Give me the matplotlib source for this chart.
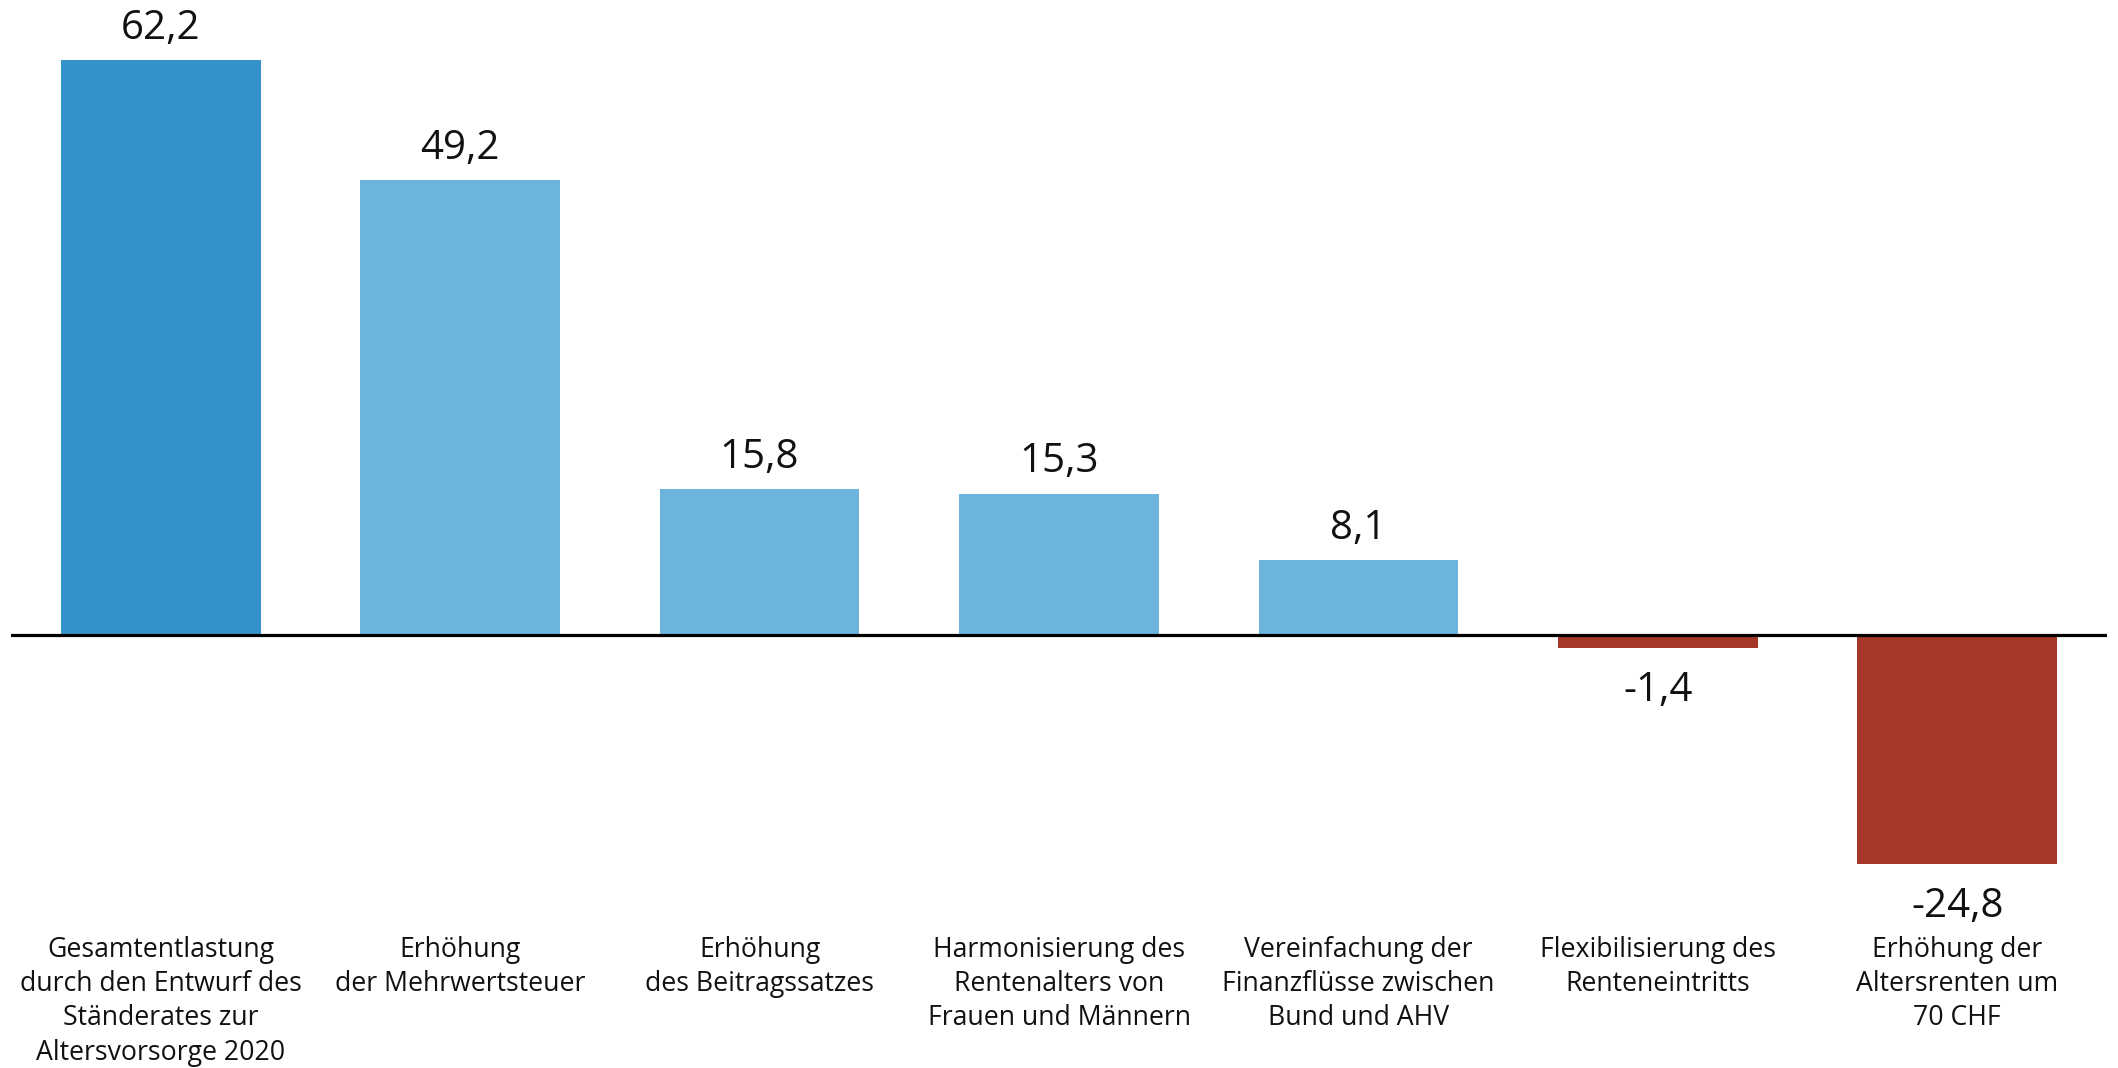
import matplotlib
matplotlib.use("Agg")
import matplotlib.pyplot as plt

# Data (Mrd. CHF)
categories = [
    "Gesamtentlastung\ndurch den Entwurf des\nStänderates zur\nAltersvorsorge 2020",
    "Erhöhung\nder Mehrwertsteuer",
    "Erhöhung\ndes Beitragssatzes",
    "Harmonisierung des\nRentenalters von\nFrauen und Männern",
    "Vereinfachung der\nFinanzflüsse zwischen\nBund und AHV",
    "Flexibilisierung des\nRenteneintritts",
    "Erhöhung der\nAltersrenten um\n70 CHF",
]
values = [62.2, 49.2, 15.8, 15.3, 8.1, -1.4, -24.8]
value_labels = ["62,2", "49,2", "15,8", "15,3", "8,1", "-1,4", "-24,8"]

DARK_BLUE = "#3692ca"
LIGHT_BLUE = "#6db4dd"
RED = "#a43728"


def main() -> None:
    plt.rcParams["font.family"] = ["Open Sans", "DejaVu Sans"]

    fig = plt.figure(figsize=(21.18, 10.68), dpi=100)
    ax = fig.add_axes([11 / 2118, 0, (2107 - 11) / 2118, 1])

    colors = [DARK_BLUE] + [LIGHT_BLUE if v > 0 else RED for v in values[1:]]
    xs = range(len(values))
    ax.bar(xs, values, width=0.667, color=colors, zorder=2)
    ax.axhline(0, color="black", linewidth=2.3, zorder=3)

    ax.set_xlim(-0.5, 6.5)
    ax.set_ylim(-46.8, 68.65)

    for x, v, lab in zip(xs, values, value_labels):
        if v >= 0:
            ax.annotate(lab, (x, v), xytext=(0, 8), textcoords="offset points",
                        ha="center", va="bottom", fontsize=29, color="#111111")
        else:
            ax.annotate(lab, (x, v), xytext=(0, -16), textcoords="offset points",
                        ha="center", va="top", fontsize=29, color="#111111")

    for x, cat in zip(xs, categories):
        ax.text(x, -32.5, cat, ha="center", va="top", fontsize=19.2,
                linespacing=1.3, color="#111111")

    ax.axis("off")
    fig.savefig("out.png", dpi=100)


if __name__ == "__main__":
    main()
